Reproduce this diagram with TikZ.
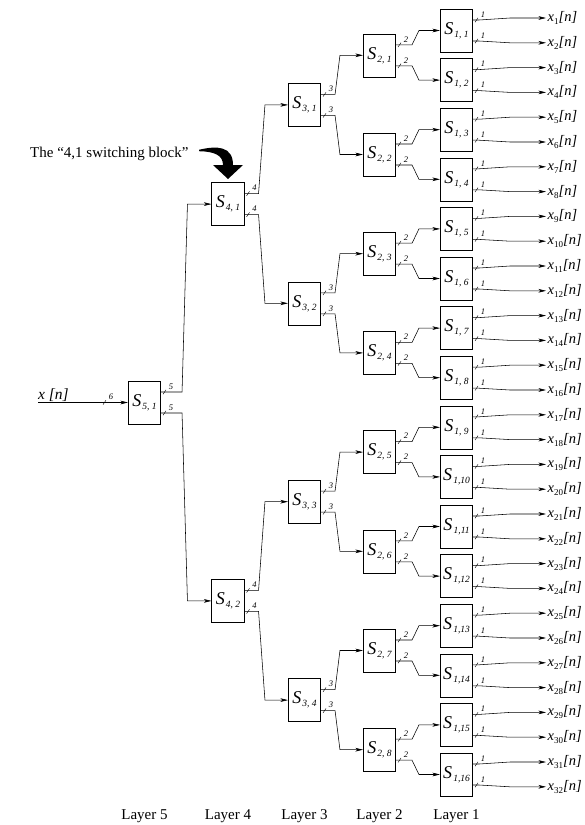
\documentclass[tikz,border=0pt]{standalone}
\usepackage{fontspec}
\setmainfont{Liberation Serif}
\usetikzlibrary{calc,arrows.meta}
\newcommand{\blab}[1]{{\fontsize{18}{18}\selectfont\itshape S}\hspace{1.2pt}\raisebox{-3pt}{\fontsize{9.5}{9.5}\selectfont\itshape #1}}
\newcommand{\xlab}[1]{\textit{x}\raisebox{-3pt}{\fontsize{9}{9}\selectfont #1}\textit{[n]}}
\newcommand{\bmark}[2]{%
  \draw[busline] ($(#1)+(2,2.2)$) -- ($(#1)+(5,-2.2)$);
  \node[buslbl] at ($(#1)+(10,-5.5)$) {#2};}
\begin{document}
\begin{tikzpicture}[x=1pt,y=-1pt,
  blk/.style={draw, line width=0.6pt, minimum width=32.5pt, minimum height=43pt, inner sep=0pt},
  conn/.style={line width=0.55pt, -{Stealth[length=7.5pt,width=3.6pt,inset=2pt]}},
  busline/.style={line width=0.4pt},
  buslbl/.style={font=\fontsize{8.5}{8.5}\selectfont\itshape, inner sep=0pt},
  outlbl/.style={anchor=west, inner sep=1.5pt, font=\fontsize{14.5}{14.5}\selectfont},
  lyr/.style={font=\fontsize{15}{15}\selectfont, anchor=base, inner sep=0pt},
  note/.style={font=\fontsize{15}{15}\selectfont, anchor=base west, inner sep=0pt}]
\useasboundingbox (0,0) rectangle (585,825);

% blocks
\foreach \k in {1,...,16}{
  \pgfmathsetmacro\cy{30.5+(\k-1)*49.6}
  \ifnum\k<10
    \node[blk] (s1-\k) at (456.5,\cy) {\blab{1, \k}};
  \else
    \node[blk] (s1-\k) at (456.5,\cy) {\blab{1,\k}};
  \fi
}
\foreach \k in {1,...,8}{
  \pgfmathsetmacro\cy{55.3+(\k-1)*99.2}
  \node[blk] (s2-\k) at (379.5,\cy) {\blab{2, \k}};
}
\foreach \k in {1,...,4}{
  \pgfmathsetmacro\cy{104.9+(\k-1)*198.4}
  \node[blk] (s3-\k) at (304.5,\cy) {\blab{3, \k}};
}
\foreach \k in {1,2}{
  \pgfmathsetmacro\cy{204.1+(\k-1)*396.8}
  \node[blk] (s4-\k) at (228,\cy) {\blab{4, \k}};
}
\node[blk] (s5-1) at (144.5,402.5) {\blab{5, 1}};

% input
\node[font=\fontsize{15.5}{15.5}\selectfont\itshape, anchor=base west, inner sep=0pt] (xin) at (38,399) {x [n]};
\draw[conn] (xin.west |- s5-1.west) -- (s5-1.west);
\coordinate (pin) at ($(s5-1.west)+(-27,0)$);
\bmark{pin}{6}

% stage connectors
\foreach \s/\h/\d in {5/21/24,4/14/23,3/14/23,2/16/21}{
  \pgfmathtruncatemacro\n{2^(5-\s)}
  \pgfmathtruncatemacro\t{\s-1}
  \foreach \k in {1,...,\n}{
    \pgfmathtruncatemacro\a{2*\k-1}
    \pgfmathtruncatemacro\b{2*\k}
    \coordinate (pa) at ($(s\s-\k.east)+(0,-10.5)$);
    \coordinate (pb) at ($(s\s-\k.east)+(0,10.5)$);
    \draw[conn] (pa) -- ++(\h,0) -- ($(s\t-\a.west)+(-\d,0)$) -- (s\t-\a.west);
    \draw[conn] (pb) -- ++(\h,0) -- ($(s\t-\b.west)+(-\d,0)$) -- (s\t-\b.west);
    \bmark{pa}{\s}
    \bmark{pb}{\s}
  }
}

% outputs
\foreach \k in {1,...,16}{
  \pgfmathtruncatemacro\a{2*\k-1}
  \pgfmathtruncatemacro\b{2*\k}
  \pgfmathsetmacro\ya{18+(\a-1)*24.8}
  \pgfmathsetmacro\yb{18+(\b-1)*24.8}
  \node[outlbl] (x-\a) at (546,\ya) {\xlab{\a}};
  \node[outlbl] (x-\b) at (546,\yb) {\xlab{\b}};
  \coordinate (pa) at ($(s1-\k.east)+(0,-10.5)$);
  \coordinate (pb) at ($(s1-\k.east)+(0,10.5)$);
  \draw[conn] (pa) -- ++(6,0) -- ($(x-\a.west)+(-36,0)$) -- (x-\a.west);
  \draw[conn] (pb) -- ++(6,0) -- ($(x-\b.west)+(-36,0)$) -- (x-\b.west);
  \bmark{pa}{1}
  \bmark{pb}{1}
}

% annotation
\node[note] (ann) at (30,157) {The ``4,1 switching block''};
\fill (199,149.8) .. controls (217,145.5) and (233,146) .. (233,165)
  -- (243,165) -- (228,179) -- (213,165) -- (223,165)
  .. controls (223,155) and (214,151.5) .. (199,151.2) -- cycle;

% layer labels
\node[lyr] (L5) at (144.5,819) {Layer 5};
\node[lyr] (L4) at (228,819) {Layer 4};
\node[lyr] (L3) at (304.5,819) {Layer 3};
\node[lyr] (L2) at (379.5,819) {Layer 2};
\node[lyr] (L1) at (456.5,819) {Layer 1};
\end{tikzpicture}
\end{document}
